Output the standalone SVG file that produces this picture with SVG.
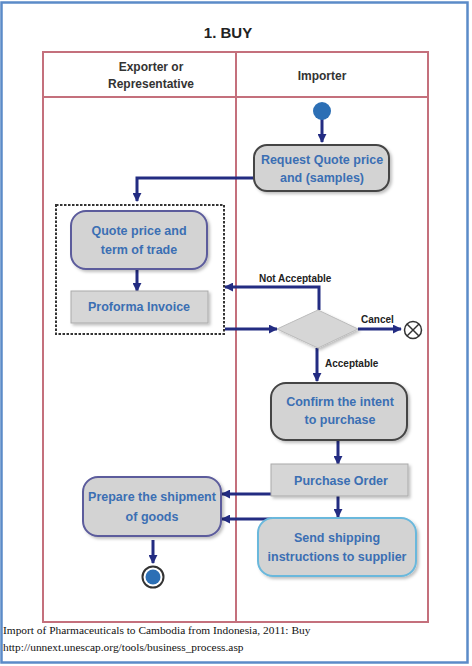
<svg xmlns="http://www.w3.org/2000/svg" width="472" height="666" viewBox="0 0 472 666">
<style>
.frame{fill:#fff;stroke:#5b8bc8;stroke-width:2.5}
.lane{fill:none;stroke:#c4707c;stroke-width:2}
.title{font-family:"Liberation Sans",Arial,sans-serif;font-weight:bold;font-size:15px;fill:#222;text-anchor:middle}
.hdr{font-family:"Liberation Sans",Arial,sans-serif;font-weight:bold;font-size:12px;fill:#333;text-anchor:middle}
.act{fill:#d3d3d3;stroke:#444;stroke-width:2}
.act2{fill:#d3d3d3;stroke:#5b5b9c;stroke-width:2}
.act3{fill:#d3d3d3;stroke:#6ab8dc;stroke-width:2}
.obj{fill:#d6d6d6;stroke:#aaa;stroke-width:1}
.t{font-family:"Liberation Sans",Arial,sans-serif;font-weight:bold;font-size:12.5px;fill:#3b6fb3;text-anchor:middle}
.lbl{font-family:"Liberation Sans",Arial,sans-serif;font-weight:bold;font-size:10px;fill:#222}
.c{fill:none;stroke:#232c82;stroke-width:3}
.cap{font-family:"Liberation Serif","Times New Roman",serif;font-size:11.4px;fill:#111}
</style>
<defs>
<marker id="ah" viewBox="0 0 10 10" refX="9" refY="5" markerWidth="3" markerHeight="3" orient="auto" markerUnits="strokeWidth">
<path d="M0,0 L10,5 L0,10 z" fill="#232c82"/>
</marker>
<filter id="sh" x="-10%" y="-10%" width="130%" height="130%">
<feDropShadow dx="2" dy="2" stdDeviation="1.5" flood-color="#000" flood-opacity="0.25"/>
</filter>
</defs>
<rect class="frame" x="1.5" y="2.5" width="466" height="660"/>
<text class="title" x="228" y="38">1. BUY</text>
<g id="lanes">
<rect class="lane" x="43" y="52" width="385" height="570"/>
<line class="lane" x1="43" y1="97" x2="428" y2="97"/>
<line class="lane" x1="236" y1="52" x2="236" y2="622"/>
<text class="hdr" x="151" y="71">Exporter or</text>
<text class="hdr" x="151" y="88">Representative</text>
<text class="hdr" x="322" y="80">Importer</text>
</g>
<g id="connectors">
<line class="c" x1="322" y1="118" x2="322" y2="142" marker-end="url(#ah)"/>
<polyline class="c" points="254,178 137,178 137,201" marker-end="url(#ah)"/>
<line class="c" x1="137" y1="269" x2="137" y2="291" marker-end="url(#ah)"/>
<polyline class="c" points="319,310 319,287 225,287" marker-end="url(#ah)"/>
<line class="c" x1="225" y1="329" x2="277" y2="329" marker-end="url(#ah)"/>
<line class="c" x1="358" y1="329" x2="401" y2="329" marker-end="url(#ah)"/>
<line class="c" x1="317" y1="348" x2="317" y2="381" marker-end="url(#ah)"/>
<line class="c" x1="338" y1="440" x2="338" y2="464" marker-end="url(#ah)"/>
<line class="c" x1="271" y1="494" x2="222" y2="494" marker-end="url(#ah)"/>
<line class="c" x1="338" y1="496" x2="338" y2="517" marker-end="url(#ah)"/>
<line class="c" x1="272" y1="519" x2="222" y2="519" marker-end="url(#ah)"/>
<line class="c" x1="153" y1="540" x2="153" y2="563" marker-end="url(#ah)"/>
<text class="lbl" x="259" y="282">Not Acceptable</text>
<text class="lbl" x="361" y="323">Cancel</text>
<text class="lbl" x="325" y="367">Acceptable</text>
</g>
<g id="start">
<circle cx="322" cy="111" r="9" fill="#2c6fb5"/>
</g>
<g id="request">
<rect class="act" x="254" y="145" width="135" height="46" rx="13" filter="url(#sh)"/>
<text class="t" x="322" y="164">Request Quote price</text>
<text class="t" x="322" y="182">and (samples)</text>
</g>
<g id="quote-group">
<rect x="56" y="205" width="168" height="129" fill="none" stroke="#333" stroke-width="2" stroke-dasharray="2.5,1.5"/>
</g>
<g id="quote">
<rect class="act2" x="71" y="211" width="136" height="58" rx="15" filter="url(#sh)"/>
<text class="t" x="139" y="235">Quote price and</text>
<text class="t" x="139" y="254">term of trade</text>
</g>
<g id="proforma">
<rect class="obj" x="71" y="291" width="137" height="32" filter="url(#sh)"/>
<text class="t" x="139" y="311">Proforma Invoice</text>
</g>
<g id="decision">
<polygon points="318,310 358,329 318,348 277,329" fill="#d6d6d6" stroke="#bbb" stroke-width="1" filter="url(#sh)"/>
</g>
<g id="cancel-end">
<circle cx="413" cy="330" r="8.5" fill="#fff" stroke="#333" stroke-width="1.5"/>
<line x1="407" y1="324" x2="419" y2="336" stroke="#333" stroke-width="1.5"/>
<line x1="419" y1="324" x2="407" y2="336" stroke="#333" stroke-width="1.5"/>
</g>
<g id="confirm">
<rect class="act" x="271" y="383" width="136" height="57" rx="15" filter="url(#sh)"/>
<text class="t" x="340" y="406">Confirm the intent</text>
<text class="t" x="340" y="424">to purchase</text>
</g>
<g id="po">
<rect class="obj" x="271" y="464" width="137" height="32" filter="url(#sh)"/>
<text class="t" x="341" y="485">Purchase Order</text>
</g>
<g id="send">
<rect class="act3" x="258" y="518" width="158" height="58" rx="15" filter="url(#sh)"/>
<text class="t" x="337" y="542">Send shipping</text>
<text class="t" x="337" y="561">instructions to supplier</text>
</g>
<g id="prepare">
<rect class="act2" x="83" y="477" width="138" height="59" rx="15" filter="url(#sh)"/>
<text class="t" x="152" y="501">Prepare the shipment</text>
<text class="t" x="152" y="521">of goods</text>
</g>
<g id="end">
<circle cx="153" cy="577" r="10.5" fill="#fff" stroke="#333" stroke-width="2"/>
<circle cx="153" cy="577" r="7.5" fill="#2c6fb5"/>
</g>
<text class="cap" x="3" y="634">Import of Pharmaceuticals to Cambodia from Indonesia, 2011: Buy</text>
<text class="cap" x="3" y="651">http://unnext.unescap.org/tools/business_process.asp</text>
</svg>
